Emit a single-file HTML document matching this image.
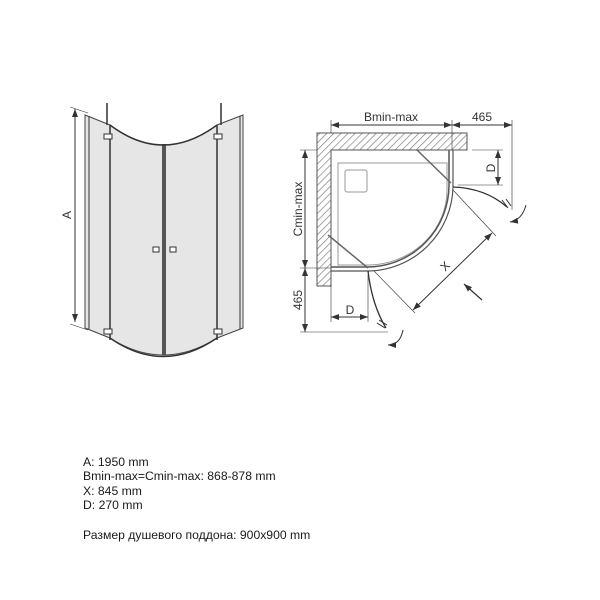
<!DOCTYPE html>
<html><head><meta charset="utf-8"><style>
body{margin:0;background:#fff;width:600px;height:600px;overflow:hidden}
svg{position:absolute;left:0;top:0}
.t{position:absolute;left:83px;font-family:"Liberation Sans","DejaVu Sans",sans-serif;font-size:12.2px;color:#1a1a1a;white-space:nowrap}
</style></head><body>
<svg width="600" height="600" viewBox="0 0 600 600">
<defs>
<pattern id="h" width="5" height="5" patternUnits="userSpaceOnUse" patternTransform="rotate(45)">
<rect width="5" height="5" fill="#fff"/><line x1="0" y1="0" x2="0" y2="5" stroke="#777" stroke-width="1.3"/></pattern>
<marker id="a" markerWidth="8" markerHeight="6" refX="8" refY="3" orient="auto-start-reverse" markerUnits="userSpaceOnUse"><path d="M0,0L8,3L0,6z" fill="#333"/></marker>
</defs>
<g fill="none" stroke="#333" stroke-width="1">
<path d="M85,115 L110,125 Q163,165 217,125 L243,115 L243,328 L217,338 Q163,372 110,338 L85,328 Z" fill="#e6e6e6" stroke="#444"/>
<line x1="89" y1="116" x2="89" y2="329"/>
<line x1="110" y1="125" x2="110" y2="340" stroke-width="1.5"/>
<line x1="164" y1="144" x2="164" y2="355" stroke="#555" stroke-width="4"/>
<line x1="217" y1="125" x2="217" y2="340" stroke-width="1.5"/>
<line x1="240" y1="116" x2="240" y2="329"/>
<path d="M110,125 Q163,165 217,125" stroke-width="1.5"/>
<path d="M110,338 Q163,375 217,338" stroke-width="1.5"/>
<line x1="107" y1="103" x2="107" y2="125" stroke-width="1.5"/><line x1="221" y1="103" x2="221" y2="125" stroke-width="1.5"/>
<rect x="104" y="134" width="8" height="5" fill="#fff"/><rect x="214" y="134" width="8" height="5" fill="#fff"/>
<rect x="104" y="329" width="8" height="5" fill="#fff"/><rect x="214" y="329" width="8" height="5" fill="#fff"/>
<rect x="153" y="247" width="6" height="5" fill="#fff"/><rect x="170" y="247" width="6" height="5" fill="#fff"/>
<line x1="75" y1="109" x2="75" y2="322" marker-start="url(#a)" marker-end="url(#a)"/>
<line x1="70" y1="107" x2="88" y2="113" stroke-width=".6"/><line x1="70" y1="324" x2="88" y2="330" stroke-width=".6"/>
<path d="M317,133 H467 V150 H331 V286 H317 Z" fill="url(#h)" stroke="#555"/>
<path d="M338,163 H447 V190 A80,75 0 0 1 370,265 H338 Z" stroke="#999"/>
<rect x="345" y="170" width="22" height="22" rx="2" stroke="#999"/>
<path d="M449,150 V185 A82,82 0 0 1 368,267 H331" stroke="#555" stroke-width="1.5"/>
<path d="M453,150 V187 A86,86 0 0 1 368,271 H331" stroke="#555" stroke-width="1.2"/>
<line x1="417" y1="150" x2="451" y2="183" stroke="#666" stroke-width="1.5"/>
<line x1="328" y1="235" x2="368" y2="268" stroke="#666" stroke-width="1.5"/>
<path d="M453,187 Q485,188 507,207" stroke-width="1.3"/>
<path d="M368,271 Q372,305 386,328" stroke-width="1.3"/>
<line x1="502" y1="200" x2="508" y2="208"/><line x1="506" y1="199" x2="511" y2="206"/>
<line x1="377" y1="323" x2="385" y2="328"/><line x1="379" y1="320" x2="387" y2="325"/>
<path d="M526,205 Q522,220 510,222" marker-end="url(#a)"/>
<path d="M403,330 Q400,345 388,345" marker-end="url(#a)"/>
<line x1="331" y1="125" x2="452" y2="125" marker-start="url(#a)" marker-end="url(#a)"/>
<line x1="452" y1="125" x2="512" y2="125" marker-start="url(#a)" marker-end="url(#a)"/>
<line x1="331" y1="120" x2="331" y2="133" stroke-width=".6"/><line x1="452" y1="120" x2="452" y2="150" stroke-width=".6"/><line x1="512" y1="120" x2="512" y2="210" stroke-width=".6"/>
<line x1="305" y1="150" x2="305" y2="268" marker-start="url(#a)" marker-end="url(#a)"/>
<line x1="305" y1="268" x2="305" y2="332" marker-start="url(#a)" marker-end="url(#a)"/>
<line x1="300" y1="150" x2="317" y2="150" stroke-width=".6"/><line x1="300" y1="268" x2="331" y2="268" stroke-width=".6"/><line x1="300" y1="332" x2="388" y2="332" stroke-width=".6"/>
<line x1="498" y1="150" x2="498" y2="185" marker-start="url(#a)" marker-end="url(#a)"/>
<line x1="472" y1="150" x2="503" y2="150" stroke-width=".6"/><line x1="458" y1="185" x2="503" y2="185" stroke-width=".6"/>
<line x1="331" y1="317" x2="368" y2="317" marker-start="url(#a)" marker-end="url(#a)"/>
<line x1="331" y1="286" x2="331" y2="322" stroke-width=".6"/><line x1="368" y1="275" x2="368" y2="322" stroke-width=".6"/>
<line x1="413" y1="310" x2="492" y2="233" marker-start="url(#a)" marker-end="url(#a)"/>
<line x1="374" y1="271" x2="415" y2="313" stroke-width=".6"/><line x1="453" y1="190" x2="496" y2="236" stroke-width=".6"/>
<line x1="482" y1="300" x2="464" y2="284" marker-end="url(#a)" stroke-width="1.2"/>
</g>
<g font-family="Liberation Sans,sans-serif" font-size="12" fill="#333">
<text x="391" y="121" text-anchor="middle">Bmin-max</text>
<text x="482" y="121" text-anchor="middle">465</text>
<text transform="translate(302,209) rotate(-90)" text-anchor="middle">Cmin-max</text>
<text transform="translate(302,300) rotate(-90)" text-anchor="middle">465</text>
<text transform="translate(495,168) rotate(-90)" text-anchor="middle">D</text>
<text x="350" y="314" text-anchor="middle">D</text>
<text transform="translate(448,269) rotate(-45)" text-anchor="middle">X</text>
<text transform="translate(71,215) rotate(-90)" text-anchor="middle">A</text>
</g>
</svg>
<div class="t" style="top:455px">A: 1950 mm</div>
<div class="t" style="top:469px">Bmin-max=Cmin-max: 868-878 mm</div>
<div class="t" style="top:484px">X: 845 mm</div>
<div class="t" style="top:498px">D: 270 mm</div>
<div class="t" style="top:528px">Размер душевого поддона: 900x900 mm</div>
</body></html>
